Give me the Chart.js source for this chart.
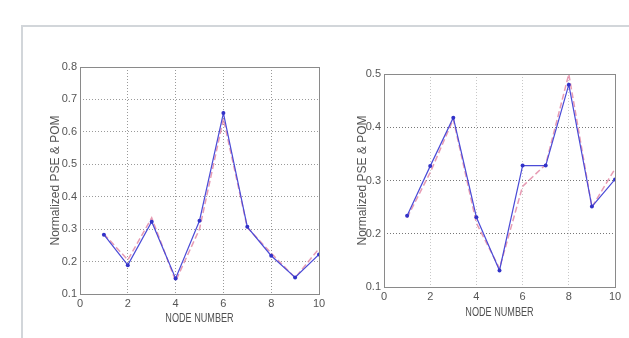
<!DOCTYPE html>
<html>
<head>
<meta charset="utf-8">
<script src="https://cdn.jsdelivr.net/npm/chart.js@4/dist/chart.umd.min.js"></script>
<style>
  body { margin: 0; background: #fff; width: 629px; height: 338px; overflow: hidden; position: relative; }
  #frame { position: absolute; left: 21px; top: 25px; width: 700px; height: 400px;
           border-left: 2px solid #d2d6da; border-top: 2px solid #d2d6da; }
  #leftChart { position: absolute; left: 30px; top: 50px; }
  #rightChart { position: absolute; left: 320px; top: 50px; }
</style>
</head>
<body>
<div id="frame"></div>
<canvas id="leftChart" width="300" height="280"></canvas>
<canvas id="rightChart" width="309" height="280"></canvas>
<script>
const nodes = [1, 2, 3, 4, 5, 6, 7, 8, 9, 10];
const leftPse = [0.283, 0.189, 0.323, 0.148, 0.326, 0.658, 0.307, 0.218, 0.151, 0.222];
const leftPom = [0.285, 0.205, 0.335, 0.140, 0.300, 0.640, 0.305, 0.226, 0.150, 0.240];
const rightPse = [0.234, 0.327, 0.418, 0.231, 0.131, 0.328, 0.328, 0.480, 0.251, 0.302];
const rightPom = [0.230, 0.315, 0.415, 0.220, 0.135, 0.289, 0.330, 0.500, 0.250, 0.322];
const xTitle = 'NODE NUMBER';

// box round the plot, like matlab, plus a squeezed x title
const boxPlugin = {
  id: 'box',
  afterDraw(chart, args, o) {
    const a = chart.chartArea, c = chart.ctx;
    c.save();
    c.strokeStyle = '#8a8a8a';
    c.lineWidth = 1;
    c.strokeRect(a.left + 0.5, a.top + 0.5, a.right - a.left, a.bottom - a.top);
    c.font = '13px "Liberation Sans"';
    c.fillStyle = '#505050';
    c.textAlign = 'center';
    c.textBaseline = 'middle';
    c.translate((a.left + a.right) / 2, o.titleY);
    c.scale(0.7, 1);
    c.fillText(xTitle, 0, 0);
    c.restore();
  }
};

function makeChart(id, pse, pom, opt) {
  new Chart(document.getElementById(id), {
    type: 'line',
    data: {
      datasets: [
        {
          data: pse.map((v, i) => ({ x: nodes[i], y: v })),
          borderColor: 'rgb(75,75,215)',
          backgroundColor: 'rgb(50,50,200)',
          borderWidth: 1.2,
          pointRadius: 2,
          pointBorderWidth: 0,
          fill: false
        },
        {
          data: pom.map((v, i) => ({ x: nodes[i], y: v })),
          borderColor: 'rgba(225,130,160,0.8)',
          borderWidth: 1.5,
          borderDash: [6, 3],
          pointRadius: 0,
          fill: false
        }
      ]
    },
    options: {
      responsive: false,
      animation: false,
      layout: { padding: { top: opt.top, right: opt.right, left: 0, bottom: 0 } },
      plugins: { legend: { display: false }, tooltip: { enabled: false }, box: { titleY: opt.titleY } },
      scales: {
        x: {
          type: 'linear', min: 0, max: 10,
          afterFit: s => { s.height = opt.xh; },
          ticks: { stepSize: 2, color: '#555', padding: 3, maxRotation: 0,
                   font: { family: 'Liberation Sans', size: 11 } },
          grid: { color: opt.vgrid, drawTicks: false },
          border: { display: false, dash: [1, 2] }
        },
        y: {
          min: 0.1, max: opt.ymax,
          afterFit: s => { s.width = opt.yw; },
          ticks: { stepSize: 0.1, color: '#555', padding: 3,
                   font: { family: 'Liberation Sans', size: 11 } },
          grid: { color: opt.hgrid, drawTicks: false },
          border: { display: false, dash: [1, 2] },
          title: { display: true, text: 'Normalized PSE & POM', color: '#555',
                   padding: { top: opt.ytp, bottom: 0 },
                   font: { family: 'Liberation Sans', size: 12 } }
        }
      }
    },
    plugins: [boxPlugin]
  });
}

makeChart('leftChart', leftPse, leftPom, {
  top: 17, right: 11, xh: 36, yw: 50, ymax: 0.8, ytp: 18, titleY: 268,
  vgrid: '#9a9a9a', hgrid: '#9a9a9a'
});
makeChart('rightChart', rightPse, rightPom, {
  top: 24, right: 14, xh: 43, yw: 64, ymax: 0.5, ytp: 35, titleY: 262,
  vgrid: '#c8c8c8', hgrid: '#777'
});
</script>
</body>
</html>
